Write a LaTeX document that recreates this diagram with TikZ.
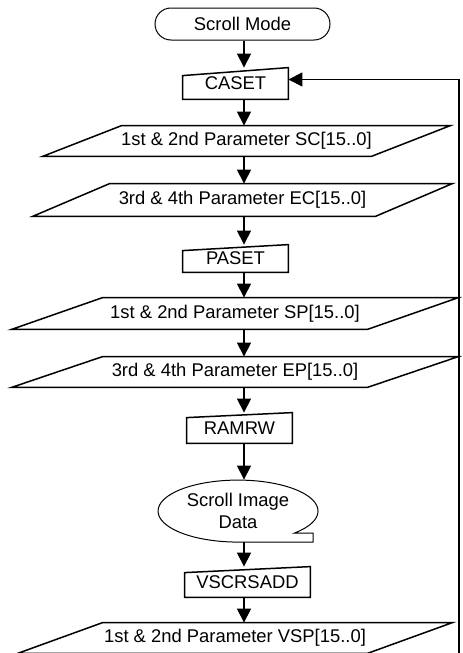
\documentclass[tikz,border=0pt]{standalone}
\usepackage{fontspec}
\setmainfont{Liberation Sans}
\usetikzlibrary{arrows.meta,shapes.misc,shapes.geometric}

\tikzset{
  flow/.style={-{Triangle[width=7pt,length=7pt]}, line width=0.6pt},
  cmdbox/.style={rectangle, inner sep=0pt, minimum height=15pt},
  shapeline/.style={line width=0.75pt, line join=miter},
}
% slanted-top box (command) and parallelogram (parameter)
\newcommand{\manin}[2]{\draw[shapeline] (#1.south west) -- (#1.south east) -- (#1.north east) -- ([yshift=-#2]#1.north west) -- cycle;}
\newcommand{\pgram}[2]{\draw[shapeline] ([xshift=#2]#1.north west) -- (#1.north east) -- ([xshift=-#2]#1.south east) -- (#1.south west) -- cycle;}

\begin{document}
\begin{tikzpicture}[x=0.5pt, y=-0.5pt, font=\fontsize{9.2}{11}\selectfont]
  \clip (0,0) rectangle (462,653);

  % start
  \node[rounded rectangle, draw, line width=0.5pt, inner sep=0pt,
        minimum width=87.5pt, minimum height=16pt] (start) at (242.5,24) {Scroll Mode};

  % column address
  \node[cmdbox, minimum width=52.5pt, minimum height=15.5pt] (caset) at (235.5,83.5) {CASET};
  \manin{caset}{4pt}
  \node[cmdbox, minimum width=203.5pt] (sc) at (246.5,141) {1st \& 2nd Parameter SC[15..0]};
  \pgram{sc}{39.5pt}
  \node[cmdbox, minimum width=209.5pt, minimum height=16pt] (ec) at (242.5,200) {3rd \& 4th Parameter EC[15..0]};
  \pgram{ec}{38.5pt}

  % page address
  \node[cmdbox, minimum width=52.5pt, minimum height=13.5pt] (paset) at (235.5,258.5) {PASET};
  \manin{paset}{3pt}
  \node[cmdbox, minimum width=223pt, minimum height=15.5pt] (sp) at (235,313.5) {1st \& 2nd Parameter SP[15..0]};
  \pgram{sp}{45.5pt}
  \node[cmdbox, minimum width=223pt] (ep) at (235,372) {3rd \& 4th Parameter EP[15..0]};
  \pgram{ep}{45.5pt}

  % memory write
  \node[cmdbox, minimum width=52.5pt] (ramrw) at (239.5,428) {RAMRW};
  \manin{ramrw}{2.5pt}
  \node[ellipse, inner sep=0pt, minimum width=80pt, minimum height=31pt, align=center] (data) at (238,511) {Scroll Image\\Data};
  \draw[line width=0.5pt] (data.center) ++(0,31) -- ++(75,0) -- ++(0,-9) -- ++(-18.4,0)
    arc[start angle=45, end angle=-270, x radius=80, y radius=31];

  % vertical scroll start
  \node[cmdbox, minimum width=62.5pt] (vscr) at (247.5,582) {VSCRSADD};
  \manin{vscr}{3pt}
  \node[cmdbox, minimum width=217pt] (vsp) at (235,638) {1st \& 2nd Parameter VSP[15..0]};
  \pgram{vsp}{42.5pt}

  % connectors
  \coordinate (spine) at (244,0);
  \draw[flow] (start.south -| spine) -- (caset.north -| spine);
  \draw[flow] (caset.south -| spine) -- (sc.north -| spine);
  \draw[flow] (sc.south -| spine) -- (ec.north -| spine);
  \draw[flow] (ec.south -| spine) -- (paset.north -| spine);
  \draw[flow] (paset.south -| spine) -- (sp.north -| spine);
  \draw[flow] (sp.south -| spine) -- (ep.north -| spine);
  \draw[flow] (ep.south -| spine) -- (ramrw.north -| spine);
  \draw[flow] (ramrw.south -| spine) -- (data.north -| spine);
  \draw[flow] (data.south -| spine) -- (vscr.north -| spine);
  \draw[flow] (vscr.south -| spine) -- (vsp.north -| spine);

  % loop back
  \coordinate (loopend) at (459,660);
  \draw[flow] (loopend) |- ([yshift=2pt]caset.east);
\end{tikzpicture}
\end{document}
